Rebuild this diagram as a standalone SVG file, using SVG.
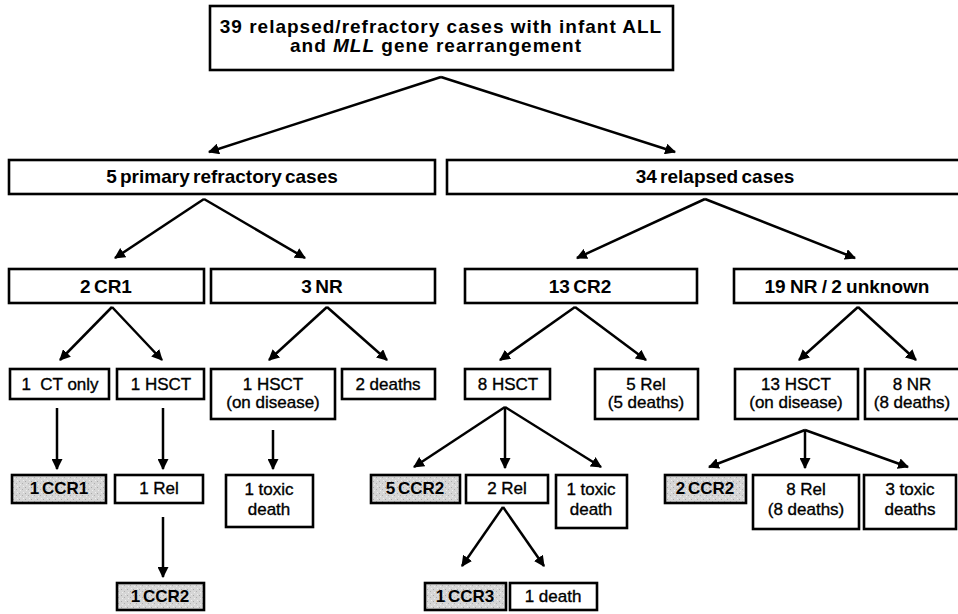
<svg xmlns="http://www.w3.org/2000/svg" width="958" height="614" viewBox="0 0 958 614">
<style>
.box{fill:#fff;stroke:#000;stroke-width:2.6}
.grey{fill:url(#stip);stroke:#000;stroke-width:2.6}
.hb{font-family:"Liberation Sans",Arial,sans-serif;font-weight:bold;font-size:19px;text-anchor:middle;fill:#000}
.t{font-family:"Liberation Sans",Arial,sans-serif;font-size:17px;text-anchor:middle;fill:#000;stroke:#000;stroke-width:0.35}
.tb{font-family:"Liberation Sans",Arial,sans-serif;font-weight:bold;font-size:17px;text-anchor:middle;fill:#000}
.c{fill:none;stroke:#000;stroke-width:2.5}
</style>
<defs>
<marker id="ah" viewBox="0 0 10 10" refX="9" refY="5" markerWidth="4.4" markerHeight="4.4" orient="auto" markerUnits="strokeWidth">
<path d="M0,0 L10,5 L0,10 z" fill="#000"/>
</marker>
<pattern id="stip" width="6" height="6" patternUnits="userSpaceOnUse">
<rect width="6" height="6" fill="#d6d6d6"/>
<rect x="1" y="1" width="1" height="1" fill="#a8a8a8"/>
<rect x="4" y="3" width="1" height="1" fill="#b0b0b0"/>
<rect x="2" y="4" width="1" height="1" fill="#eeeeee"/>
<rect x="5" y="0" width="1" height="1" fill="#eeeeee"/>
</pattern>
</defs>
<rect width="958" height="614" fill="#fff"/>
<g id="connectors">
<path class="c" d="M441,77 L209,152" marker-end="url(#ah)"/>
<path class="c" d="M441,77 L675,152" marker-end="url(#ah)"/>
<path class="c" d="M204,199 L115,258" marker-end="url(#ah)"/>
<path class="c" d="M204,199 L305,258" marker-end="url(#ah)"/>
<path class="c" d="M705,199 L577,258" marker-end="url(#ah)"/>
<path class="c" d="M705,199 L855,258" marker-end="url(#ah)"/>
<path class="c" d="M112,307 L60,360" marker-end="url(#ah)"/>
<path class="c" d="M112,307 L162,360" marker-end="url(#ah)"/>
<path class="c" d="M327,307 L269,360" marker-end="url(#ah)"/>
<path class="c" d="M327,307 L387,360" marker-end="url(#ah)"/>
<path class="c" d="M575,307 L500,360" marker-end="url(#ah)"/>
<path class="c" d="M575,307 L646,360" marker-end="url(#ah)"/>
<path class="c" d="M858,307 L799,360" marker-end="url(#ah)"/>
<path class="c" d="M858,307 L916,360" marker-end="url(#ah)"/>
<path class="c" d="M57,408 L57,469" marker-end="url(#ah)"/>
<path class="c" d="M163,408 L163,469" marker-end="url(#ah)"/>
<path class="c" d="M273,430 L273,469" marker-end="url(#ah)"/>
<path class="c" d="M505,407 L414,467" marker-end="url(#ah)"/>
<path class="c" d="M505,407 L505,468" marker-end="url(#ah)"/>
<path class="c" d="M505,407 L601,467" marker-end="url(#ah)"/>
<path class="c" d="M805,430 L709,467" marker-end="url(#ah)"/>
<path class="c" d="M805,430 L805,468" marker-end="url(#ah)"/>
<path class="c" d="M805,430 L908,467" marker-end="url(#ah)"/>
<path class="c" d="M163,517 L163,577" marker-end="url(#ah)"/>
<path class="c" d="M503,507 L462,566" marker-end="url(#ah)"/>
<path class="c" d="M503,507 L544,566" marker-end="url(#ah)"/>
</g>
<g id="n_top">
<rect class="box" x="210" y="6" width="463" height="64"/>
<text class="hb" x="441" y="33" font-size="18" letter-spacing="1">39 relapsed/refractory cases with infant ALL</text>
<text class="hb" x="436" y="52" font-size="18" letter-spacing="1">and <tspan font-style="italic">MLL</tspan> gene rearrangement</text>
</g>
<g id="n_primary">
<rect class="box" x="9" y="160" width="426" height="34"/>
<text class="hb" x="222" y="183" font-size="20" word-spacing="-2">5 primary refractory cases</text>
</g>
<g id="n_relapsed">
<rect class="box" x="447" y="160" width="540" height="34"/>
<text class="hb" x="715" y="183" font-size="20" word-spacing="-2">34 relapsed cases</text>
</g>
<g id="n_cr1">
<rect class="box" x="9" y="269" width="195" height="34"/>
<text class="hb" x="106" y="293" word-spacing="-2">2 CR1</text>
</g>
<g id="n_nr3">
<rect class="box" x="211" y="269" width="224" height="34"/>
<text class="hb" x="322" y="293" word-spacing="-2">3 NR</text>
</g>
<g id="n_cr2">
<rect class="box" x="465" y="269" width="232" height="34"/>
<text class="hb" x="580" y="293" word-spacing="-2">13 CR2</text>
</g>
<g id="n_nr19">
<rect class="box" x="734" y="269" width="230" height="34"/>
<text class="hb" x="847" y="293" word-spacing="-1">19 NR / 2 unknown</text>
</g>
<g id="n_ct">
<rect class="box" x="10" y="369" width="99" height="30"/>
<text class="t" x="60" y="390" xml:space="preserve">1  CT only</text>
</g>
<g id="n_hsct1">
<rect class="box" x="117" y="369" width="87" height="30"/>
<text class="t" x="161" y="390">1 HSCT</text>
</g>
<g id="n_hsct_dis1">
<rect class="box" x="211" y="369" width="124" height="50"/>
<text class="t" x="273" y="390">1 HSCT</text>
<text class="t" x="273" y="408">(on disease)</text>
</g>
<g id="n_2deaths">
<rect class="box" x="342" y="369" width="93" height="30"/>
<text class="t" x="388" y="390">2 deaths</text>
</g>
<g id="n_8hsct">
<rect class="box" x="465" y="369" width="85" height="30"/>
<text class="t" x="508" y="390">8 HSCT</text>
</g>
<g id="n_5rel">
<rect class="box" x="595" y="369" width="103" height="50"/>
<text class="t" x="646" y="390">5 Rel</text>
<text class="t" x="646" y="408">(5 deaths)</text>
</g>
<g id="n_13hsct">
<rect class="box" x="735" y="369" width="123" height="50"/>
<text class="t" x="796" y="390">13 HSCT</text>
<text class="t" x="796" y="408">(on disease)</text>
</g>
<g id="n_8nr">
<rect class="box" x="865" y="369" width="100" height="50"/>
<text class="t" x="912" y="390">8 NR</text>
<text class="t" x="912" y="408">(8 deaths)</text>
</g>
<g id="n_ccr1">
<rect class="grey" x="12" y="475" width="94" height="28"/>
<text class="tb" x="59" y="494" word-spacing="-2">1 CCR1</text>
</g>
<g id="n_rel1">
<rect class="box" x="115" y="475" width="88" height="28"/>
<text class="t" x="159" y="494">1 Rel</text>
</g>
<g id="n_toxic1">
<rect class="box" x="226" y="475" width="87" height="52"/>
<text class="t" x="269" y="495">1 toxic</text>
<text class="t" x="269" y="515">death</text>
</g>
<g id="n_5ccr2">
<rect class="grey" x="371" y="475" width="89" height="28"/>
<text class="tb" x="415" y="494" word-spacing="-2">5 CCR2</text>
</g>
<g id="n_2rel">
<rect class="box" x="466" y="475" width="82" height="28"/>
<text class="t" x="507" y="494">2 Rel</text>
</g>
<g id="n_toxic2">
<rect class="box" x="556" y="475" width="71" height="53"/>
<text class="t" x="591" y="495">1 toxic</text>
<text class="t" x="591" y="515">death</text>
</g>
<g id="n_2ccr2">
<rect class="grey" x="665" y="475" width="81" height="28"/>
<text class="tb" x="705" y="494" word-spacing="-2">2 CCR2</text>
</g>
<g id="n_8rel">
<rect class="box" x="753" y="475" width="106" height="54"/>
<text class="t" x="806" y="495">8 Rel</text>
<text class="t" x="806" y="515">(8 deaths)</text>
</g>
<g id="n_3toxic">
<rect class="box" x="864" y="475" width="92" height="54"/>
<text class="t" x="910" y="495">3 toxic</text>
<text class="t" x="910" y="515">deaths</text>
</g>
<g id="n_ccr2b">
<rect class="grey" x="117" y="583" width="87" height="27"/>
<text class="tb" x="160" y="602" word-spacing="-2">1 CCR2</text>
</g>
<g id="n_ccr3">
<rect class="grey" x="425" y="583" width="81" height="27"/>
<text class="tb" x="465" y="602" word-spacing="-2">1 CCR3</text>
</g>
<g id="n_death">
<rect class="box" x="510" y="583" width="87" height="27"/>
<text class="t" x="553" y="602">1 death</text>
</g>
</svg>
